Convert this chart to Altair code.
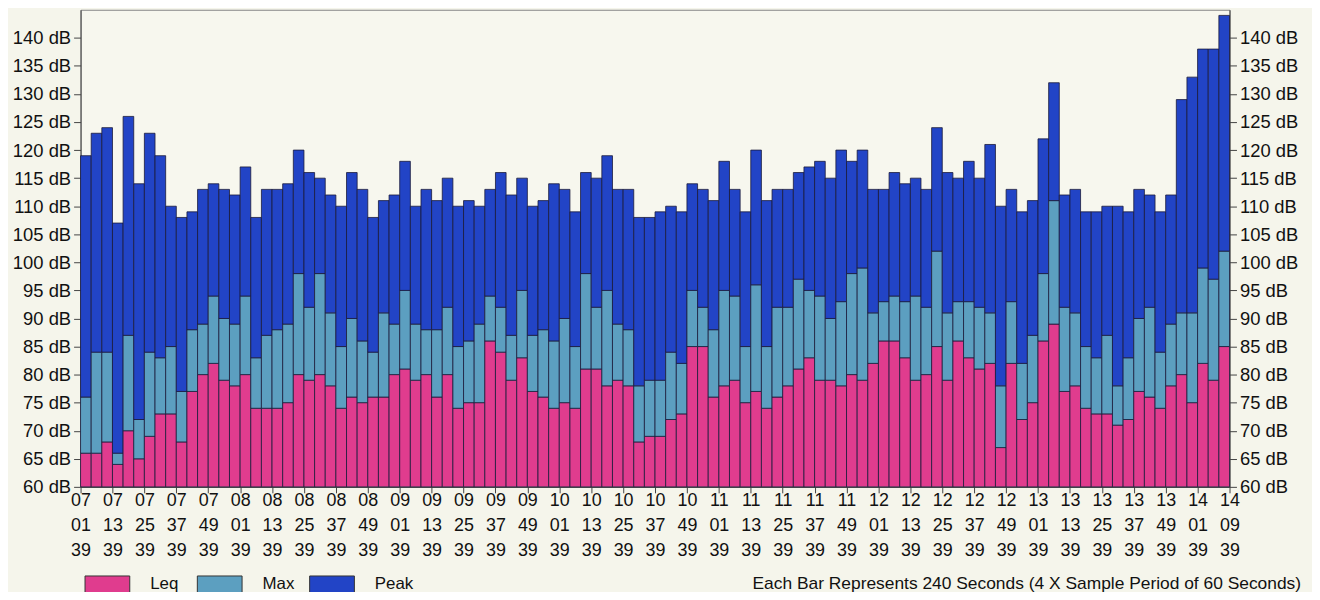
import altair as alt
import pandas as pd

# ---- data (dB) ----
leq = [66, 66, 68, 64, 70, 65, 69, 73, 73, 68, 77, 80, 82, 79, 78, 80, 74, 74, 74, 75,
       80, 79, 80, 78, 74, 76, 75, 76, 76, 80, 81, 79, 80, 76, 80, 74, 75, 75, 86, 84,
       79, 83, 77, 76, 74, 75, 74, 81, 81, 78, 79, 78, 68, 69, 69, 72, 73, 85, 85, 76,
       78, 79, 75, 77, 74, 76, 78, 81, 83, 79, 79, 78, 80, 79, 82, 86, 86, 83, 79, 80,
       85, 79, 86, 83, 81, 82, 67, 82, 72, 75, 86, 89, 77, 78, 74, 73, 73, 71, 72, 77,
       76, 74, 78, 80, 75, 82, 79, 85]
lmax = [76, 84, 84, 66, 87, 72, 84, 83, 85, 77, 88, 89, 94, 90, 89, 94, 83, 87, 88, 89,
        98, 92, 98, 91, 85, 90, 86, 84, 91, 89, 95, 89, 88, 88, 92, 85, 86, 89, 94, 92,
        87, 95, 87, 88, 86, 90, 85, 98, 92, 95, 89, 88, 78, 79, 79, 84, 82, 95, 92, 88,
        95, 94, 85, 96, 85, 92, 92, 97, 95, 94, 90, 93, 98, 99, 91, 93, 94, 93, 94, 92,
        102, 91, 93, 93, 92, 91, 78, 93, 82, 87, 98, 111, 92, 91, 85, 83, 87, 78, 83, 90,
        92, 84, 89, 91, 91, 99, 97, 102]
peak = [119, 123, 124, 107, 126, 114, 123, 119, 110, 108, 109, 113, 114, 113, 112, 117, 108, 113, 113, 114,
        120, 116, 115, 112, 110, 116, 113, 108, 111, 112, 118, 110, 113, 111, 115, 110, 111, 110, 113, 116,
        112, 115, 110, 111, 114, 113, 109, 116, 115, 119, 113, 113, 108, 108, 109, 110, 109, 114, 113, 111,
        118, 113, 109, 120, 111, 113, 113, 116, 117, 118, 115, 120, 118, 120, 113, 113, 116, 114, 115, 113,
        124, 116, 115, 118, 115, 121, 110, 113, 109, 111, 122, 132, 112, 113, 109, 109, 110, 110, 109, 113,
        112, 109, 112, 129, 133, 138, 138, 144]

series_names = ["Leq", "Max", "Peak"]
series_colors = ["#e03c8e", "#5c9fc0", "#2244c6"]

tick_labels = ["07 01 39", "07 13 39", "07 25 39", "07 37 39", "07 49 39",
               "08 01 39", "08 13 39", "08 25 39", "08 37 39", "08 49 39",
               "09 01 39", "09 13 39", "09 25 39", "09 37 39", "09 49 39",
               "10 01 39", "10 13 39", "10 25 39", "10 37 39", "10 49 39",
               "11 01 39", "11 13 39", "11 25 39", "11 37 39", "11 49 39",
               "12 01 39", "12 13 39", "12 25 39", "12 37 39", "12 49 39",
               "13 01 39", "13 13 39", "13 25 39", "13 37 39", "13 49 39",
               "14 01 39", "14 09 39"]
tick_positions = [3 * i for i in range(36)] + [len(leq)]
y_ticks = list(range(60, 141, 5))
note = ["Each Bar Represents 240 Seconds (4 X Sample Period of 60 Seconds)"]

# ---- build long table ----
rows = []
for i, (a, b, c) in enumerate(zip(leq, lmax, peak)):
    rows.append({"bar": i, "series": "Leq", "lo": 60, "hi": a})
    rows.append({"bar": i, "series": "Max", "lo": a, "hi": b})
    rows.append({"bar": i, "series": "Peak", "lo": b, "hi": c})
df = pd.DataFrame(rows)

lab_js = "[" + ",".join("[" + ",".join("'" + p + "'" for p in s.split(" ")) + "]" for s in tick_labels) + "]"
pos_js = "[" + ",".join(str(p) for p in tick_positions) + "]"
label_expr = f"{lab_js}[indexof({pos_js}, datum.value)]"

FONT = "Liberation Sans"
ydom = [60, 145]
xscale = alt.Scale(domain=[0, len(leq)], nice=False, zero=False)
yscale = alt.Scale(domain=ydom, nice=False, zero=False)

base = alt.Chart(df).transform_calculate(bar2="datum.bar + 1")

xaxis = alt.Axis(values=tick_positions, labelExpr=label_expr, title=None,
                 labelFlush=False, labelOverlap=False, labelBound=False,
                 grid=False, tickSize=6, labelFontSize=18, labelLineHeight=25,
                 labelPadding=-1, labelColor="#111", tickColor="#444",
                 domainColor="#444", labelFont=FONT, labelBaseline="top")


def yaxis(orient):
    return alt.Axis(values=y_ticks, labelExpr="datum.value + ' dB'", title=None,
                    orient=orient, grid=False, tickSize=7, labelFontSize=18.5,
                    labelPadding=3, labelColor="#111", tickColor="#444",
                    domainColor="#444", labelFont=FONT)


bars = base.mark_bar(stroke="#1b1b3a", strokeWidth=0.8, opacity=1).encode(
    x=alt.X("bar:Q", scale=xscale, axis=xaxis),
    x2="bar2:Q",
    y=alt.Y("lo:Q", scale=yscale, axis=yaxis("left")),
    y2="hi:Q",
    color=alt.Color("series:N",
                    scale=alt.Scale(domain=series_names, range=series_colors),
                    legend=alt.Legend(title=None, orient="none", legendX=4, legendY=555,
                                      direction="horizontal", columns=3, gridAlign="all",
                                      columnPadding=6, padding=0,
                                      symbolType="M-1,-0.38H1V0.38H-1Z", symbolSize=2025,
                                      symbolStrokeColor="#333", symbolStrokeWidth=1,
                                      symbolOpacity=1, labelOffset=20, labelFontSize=17,
                                      labelFont=FONT, labelColor="#111")),
)

right = base.mark_bar(opacity=0).encode(
    x=alt.X("bar:Q", scale=xscale, axis=xaxis),
    x2="bar2:Q",
    y=alt.Y("lo:Q", scale=yscale, axis=yaxis("right")),
    y2="hi:Q",
)

note_layer = alt.Chart(pd.DataFrame({"note": note})).mark_text(
    align="right", baseline="middle", fontSize=17.5, font=FONT, color="#111"
).encode(text="note:N", x=alt.value(1228), y=alt.value(578))

chart = alt.layer(bars, right, note_layer).resolve_scale(y="independent").properties(
    width=1156, height=480,
    autosize=alt.AutoSizeParams(type="none"),
    padding={"left": 73, "top": 0, "right": 83, "bottom": 104},
    background="#f5f5eb",
).configure_view(stroke="#888", strokeWidth=1, fill="#f7f7ee")

chart.save("out.html", embed_options={"renderer": "svg", "actions": False})
